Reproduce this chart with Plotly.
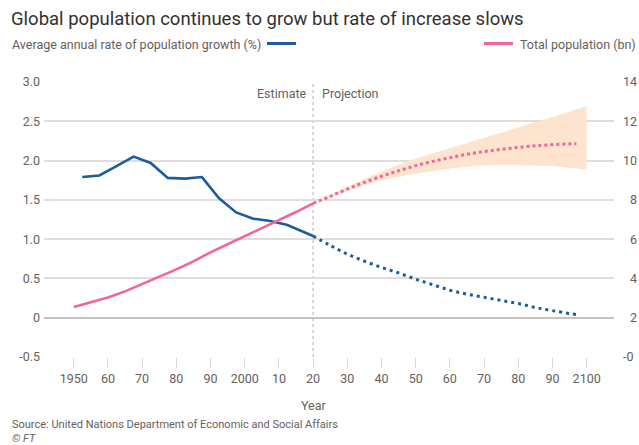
import plotly.graph_objects as go

# ---------------- data ----------------
growth_est_years = [1952.5, 1957.5, 1962.5, 1967.5, 1972.5, 1977.5, 1982.5, 1987.5,
                    1992.5, 1997.5, 2002.5, 2007.5, 2012.5, 2017.5, 2020]
growth_est = [1.79, 1.81, 1.93, 2.05, 1.97, 1.78, 1.77, 1.79,
              1.52, 1.34, 1.26, 1.23, 1.18, 1.09, 1.04]

growth_proj_years = [2020, 2025, 2030, 2035, 2040, 2045, 2050, 2055, 2060,
                     2065, 2070, 2075, 2080, 2085, 2090, 2097]
growth_proj = [1.04, 0.92, 0.81, 0.72, 0.64, 0.57, 0.49, 0.42, 0.35,
               0.30, 0.26, 0.22, 0.18, 0.13, 0.09, 0.04]

pop_est_years = [1950, 1955, 1960, 1965, 1970, 1975, 1980, 1985, 1990,
                 1995, 2000, 2005, 2010, 2015, 2020]
pop_est = [2.54, 2.77, 3.03, 3.34, 3.70, 4.08, 4.46, 4.87, 5.33,
           5.74, 6.14, 6.54, 6.96, 7.38, 7.82]

pop_proj_years = [2020, 2025, 2030, 2035, 2040, 2045, 2050, 2055, 2060,
                  2065, 2070, 2075, 2080, 2085, 2090, 2097]
pop_proj = [7.82, 8.18, 8.55, 8.89, 9.20, 9.48, 9.74, 9.96, 10.15,
            10.32, 10.46, 10.57, 10.67, 10.75, 10.81, 10.86]

band_years = [2020, 2025, 2030, 2035, 2040, 2045, 2050, 2060, 2070, 2080, 2090, 2100]
band_low = [7.82, 8.10, 8.45, 8.75, 9.00, 9.18, 9.33, 9.60, 9.76, 9.78, 9.72, 9.54]
band_high = [7.82, 8.26, 8.66, 9.08, 9.45, 9.80, 10.10, 10.62, 11.15, 11.70, 12.22, 12.77]

projection_start = 2020

x_tickvals = list(range(1950, 2101, 10))
x_ticktext = ["1950", "60", "70", "80", "90", "2000", "10", "20", "30", "40",
              "50", "60", "70", "80", "90", "2100"]
y_tickvals = [-0.5, 0, 0.5, 1.0, 1.5, 2.0, 2.5, 3.0]
y_ticktext = ["-0.5", "0", "0.5", "1.0", "1.5", "2.0", "2.5", "3.0"]
y2_tickvals = [0, 2, 4, 6, 8, 10, 12, 14]
y2_ticktext = ["-0", "\u20072", "\u20074", "\u20076", "\u20078", "10", "12", "14"]

# ---------------- style ----------------
BLUE = "#1c5b9c"
PINK = "#f0669b"
BAND = "rgb(253,228,207)"
GRID = "#e2ddd8"
TXT = "#66605c"
FONT = "Roboto"

fig = go.Figure()

fig.add_trace(go.Scatter(
    x=band_years + band_years[::-1], y=band_high + band_low[::-1],
    yaxis="y2", fill="toself", fillcolor=BAND, line=dict(width=0),
    mode="lines", hoverinfo="skip", showlegend=False))

fig.add_trace(go.Scatter(x=pop_est_years, y=pop_est, yaxis="y2", mode="lines",
                         line=dict(color=PINK, width=2.6), showlegend=False))
fig.add_trace(go.Scatter(x=pop_proj_years, y=pop_proj, yaxis="y2", mode="lines",
                         line=dict(color=PINK, width=3, dash="3px,3px", shape="spline"),
                         showlegend=False))
fig.add_trace(go.Scatter(x=growth_est_years, y=growth_est, mode="lines",
                         line=dict(color=BLUE, width=2.6), showlegend=False))
fig.add_trace(go.Scatter(x=growth_proj_years, y=growth_proj, mode="lines",
                         line=dict(color=BLUE, width=3, dash="3px,4px", shape="spline"),
                         showlegend=False))

fig.add_shape(type="line", xref="x", yref="paper", x0=projection_start, x1=projection_start,
              y0=0, y1=1, line=dict(color="#b5b0ab", width=1, dash="dot"), layer="below")

L, R, T, B = 44, 25, 82, 88
W, H = 639, 445
PW, PH = W - L - R, H - T - B


def px(x):
    return (x - L) / PW


def py(y):
    return (H - B - y) / PH


annotations = [
    dict(text="Estimate", x=projection_start, xref="x", xanchor="right", xshift=-4,
         y=py(93), yref="paper", yanchor="middle", showarrow=False,
         font=dict(size=12.5, color=TXT)),
    dict(text="Projection", x=projection_start, xref="x", xanchor="left", xshift=7,
         y=py(93), yref="paper", yanchor="middle", showarrow=False,
         font=dict(size=12.5, color=TXT)),
    dict(text="Average annual rate of population growth (%)", x=px(10), xref="paper",
         xanchor="left", y=py(44), yref="paper", yanchor="middle", showarrow=False,
         font=dict(size=12.5, color=TXT)),
    dict(text="Total population (bn)", x=px(638), xref="paper", xanchor="right",
         y=py(44), yref="paper", yanchor="middle", showarrow=False,
         font=dict(size=12.5, color=TXT)),
    dict(text="Year", x=px(314), xref="paper", xanchor="center",
         y=py(405), yref="paper", yanchor="middle", showarrow=False,
         font=dict(size=12.5, color=TXT)),
    dict(text="Source: United Nations Department of Economic and Social Affairs",
         x=px(10), xref="paper", xanchor="left", y=py(424), yref="paper", yanchor="middle",
         showarrow=False, font=dict(size=11, color=TXT)),
    dict(text="<i>© FT</i>", x=px(10), xref="paper", xanchor="left", y=py(438),
         yref="paper", yanchor="middle", showarrow=False, font=dict(size=11, color=TXT)),
]

shapes_legend = [
    dict(type="line", xref="paper", yref="paper", x0=px(267), x1=px(296), y0=py(43.5),
         y1=py(43.5), line=dict(color=BLUE, width=3)),
    dict(type="line", xref="paper", yref="paper", x0=px(484), x1=px(513), y0=py(43.5),
         y1=py(43.5), line=dict(color=PINK, width=3)),
]
for s in shapes_legend:
    fig.add_shape(**s)

fig.update_layout(
    width=W, height=H,
    margin=dict(l=L, r=R, t=T, b=B, autoexpand=False),
    paper_bgcolor="white", plot_bgcolor="white",
    font=dict(family=FONT, color=TXT, size=12.5),
    title=dict(text="Global population continues to grow but rate of increase slows",
               x=11 / W, xanchor="left", xref="container",
               y=1 - 19 / H, yanchor="middle", yref="container",
               font=dict(size=18.5, color="#33302e", family=FONT)),
    annotations=annotations,
    xaxis=dict(range=[1941.3, 2108], tickvals=x_tickvals, ticktext=x_ticktext,
               showgrid=False, zeroline=False, showline=False, automargin=False,
               ticks="outside", ticklen=10, tickwidth=1.2, tickcolor="#dcd7d2",
               tickfont=dict(size=12.5, color=TXT)),
    yaxis=dict(range=[-0.5, 3.0], tickvals=y_tickvals, ticktext=y_ticktext,
               showgrid=True, gridcolor=GRID, gridwidth=1.6, automargin=False,
               zeroline=True, zerolinecolor="#c9c2bc", zerolinewidth=1.6,
               showline=False, ticks="", ticklabelstandoff=3,
               tickfont=dict(size=12.5, color=TXT)),
    yaxis2=dict(range=[0, 14], tickvals=y2_tickvals, ticktext=y2_ticktext,
                overlaying="y", side="right", showgrid=False, zeroline=False,
                showline=False, ticks="", ticklabelstandoff=8, automargin=False,
                tickfont=dict(size=12.5, color=TXT)),
    showlegend=False,
)

fig.write_html("out.html")
